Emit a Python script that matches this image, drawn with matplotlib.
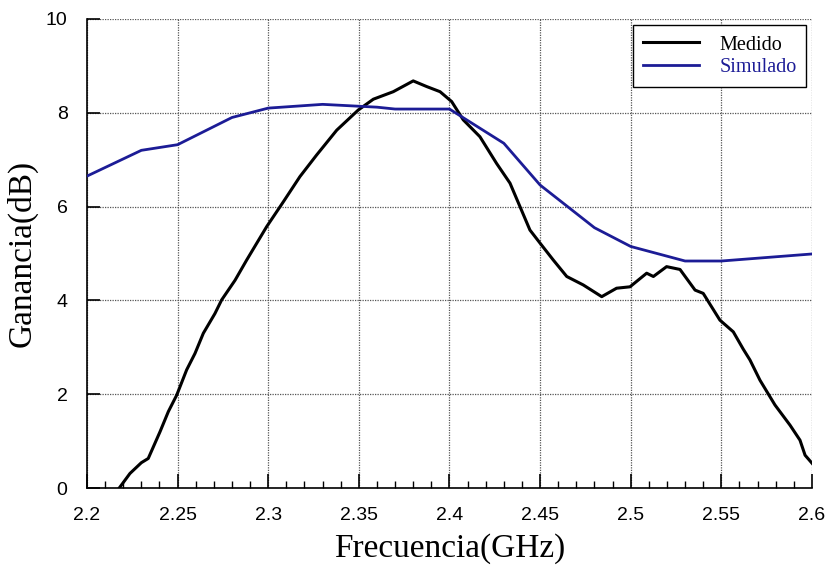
import matplotlib
matplotlib.use('Agg')
import matplotlib.pyplot as plt
import numpy as np
from matplotlib.ticker import MultipleLocator

# Simulated gain (blue)
sim_freq = [2.20, 2.23, 2.25, 2.28, 2.30, 2.33, 2.36, 2.37, 2.40, 2.43, 2.45, 2.48, 2.50, 2.53, 2.55, 2.60]
sim_gain = [6.65, 7.20, 7.32, 7.90, 8.10, 8.18, 8.12, 8.08, 8.08, 7.35, 6.46, 5.55, 5.15, 4.84, 4.84, 4.99]

# Measured gain (black)
med_freq = [2.2178, 2.2237, 2.2300, 2.2338, 2.2403, 2.2449, 2.2495, 2.2550, 2.2596, 2.2642,
            2.2706, 2.2743, 2.2817, 2.2881, 2.2991, 2.3083, 2.3175, 2.3267, 2.3378, 2.3497,
            2.3580, 2.3690, 2.3800, 2.3874, 2.3948, 2.4012, 2.4076, 2.4168, 2.4260, 2.4334,
            2.4389, 2.4444, 2.4500, 2.4573, 2.4647, 2.4738, 2.4840, 2.4922, 2.4996, 2.5088,
            2.5125, 2.5198, 2.5272, 2.5355, 2.5400, 2.5492, 2.5566, 2.5621, 2.5658, 2.5713,
            2.5796, 2.5879, 2.5934, 2.5962, 2.6000]
med_gain = [0.00, 0.31, 0.54, 0.63, 1.20, 1.63, 1.98, 2.52, 2.87, 3.30,
            3.72, 4.01, 4.43, 4.86, 5.57, 6.10, 6.64, 7.10, 7.63, 8.06,
            8.29, 8.45, 8.68, 8.56, 8.45, 8.24, 7.85, 7.49, 6.92, 6.50,
            6.00, 5.50, 5.22, 4.86, 4.51, 4.33, 4.08, 4.26, 4.29, 4.58,
            4.51, 4.72, 4.66, 4.22, 4.15, 3.58, 3.33, 2.96, 2.73, 2.30,
            1.77, 1.34, 1.02, 0.70, 0.53]

blue = '#1c1c96'
serif = 'Liberation Serif'
sans = 'Liberation Sans'

fig = plt.figure(figsize=(8.26, 5.67), dpi=100)
ax = fig.add_axes([0.1053, 0.1393, 0.8777, 0.8272])

ax.plot(med_freq, med_gain, color='black', linewidth=2.2, label='Medido', zorder=3)
ax.plot(sim_freq, sim_gain, color=blue, linewidth=2.0, label='Simulado', zorder=3)

ax.set_xlim(2.2, 2.6)
ax.set_ylim(0, 10)
ax.xaxis.set_minor_locator(MultipleLocator(0.01))
ax.yaxis.set_major_locator(MultipleLocator(2))
ax.set_xticks(np.arange(2.2, 2.6001, 0.05))
ax.set_xticklabels(['2.2', '2.25', '2.3', '2.35', '2.4', '2.45', '2.5', '2.55', '2.6'])

ax.grid(True, which='major', linestyle=(0, (1, 1)), color='#555555', linewidth=0.9)
ax.set_axisbelow(True)

for s in ['top', 'right']:
    ax.spines[s].set_visible(False)
for s in ['left', 'bottom']:
    ax.spines[s].set_linewidth(1.2)

ax.tick_params(axis='x', which='major', direction='in', length=10, width=1.2, pad=14, labelsize=14)
ax.tick_params(axis='x', which='minor', direction='in', length=5, width=1.0)
ax.tick_params(axis='y', which='major', direction='in', length=9, width=1.2, pad=14, labelsize=14)
for lbl in ax.get_xticklabels() + ax.get_yticklabels():
    lbl.set_family(sans)

ax.set_xlabel('Frecuencia(GHz)', fontsize=24, family=serif, labelpad=6)
ax.set_ylabel('Ganancia(dB)', fontsize=24, family=serif, labelpad=6)

leg = ax.legend(loc='upper right', bbox_to_anchor=(0.998, 0.995), prop={'family': serif, 'size': 14.5},
                fancybox=False, framealpha=1, edgecolor='black', handlelength=2.8,
                borderpad=0.5, labelspacing=0.15, handletextpad=1.0, borderaxespad=0.2)
leg.get_frame().set_linewidth(1.0)
leg.get_texts()[1].set_color(blue)

fig.savefig('out.png', dpi=100)
